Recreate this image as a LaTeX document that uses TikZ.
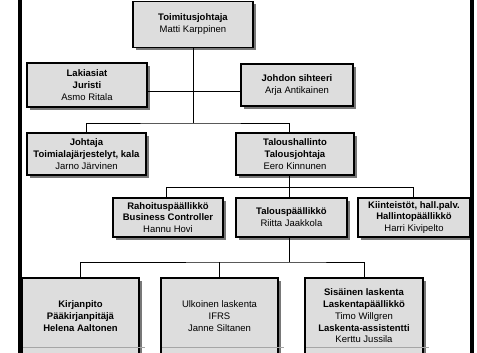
\documentclass[tikz,border=0pt]{standalone}
\usepackage{fontspec}
\setmainfont{Liberation Sans}
\usetikzlibrary{shadows}
\definecolor{boxgray}{RGB}{221,221,221}
\definecolor{shadowgray}{RGB}{120,120,120}
\tikzset{
  unit/.style={draw=black, line width=1.2pt, fill=boxgray, align=center,
    inner sep=1pt, font=\fontsize{9.5}{11.8}\selectfont,
    drop shadow={shadow xshift=3pt, shadow yshift=-3pt, fill=shadowgray, opacity=1}},
  link/.style={draw=black, line width=0.9pt},
  pagecut/.style={draw=gray!70, line width=0.4pt, dash pattern=on 1.5pt off 0.5pt},
  frame/.style={draw=black, line width=4pt}
}
\begin{document}
\begin{tikzpicture}[x=1pt, y=-1pt]
  \useasboundingbox (0,0) rectangle (477,353);
  \clip (0,0) rectangle (477,353);
  % units
  \draw
    (193,24.2) node[unit, minimum width=120pt, minimum height=46pt] (ceo)
      {\textbf{Toimitusjohtaja}\\Matti Karppinen}
    (87,85) node[unit, minimum width=120pt, minimum height=44pt] (laki)
      {\textbf{Lakiasiat}\\\textbf{Juristi}\\Asmo Ritala}
    (297,85) node[unit, minimum width=112pt, minimum height=42pt] (siht)
      {\textbf{Johdon sihteeri}\\Arja Antikainen}
    (86.5,154) node[unit, minimum width=119pt, minimum height=42pt] (johtaja)
      {\textbf{Johtaja}\\\textbf{Toimialajärjestelyt, kala}\\Jarno Järvinen}
    (295,154) node[unit, minimum width=118pt, minimum height=42pt] (talous)
      {\textbf{Taloushallinto}\\\textbf{Talousjohtaja}\\Eero Kinnunen}
    (168,217.5) node[unit, minimum width=110pt, minimum height=39pt] (rahoitus)
      {\textbf{Rahoituspäällikkö}\\\textbf{Business Controller}\\Hannu Hovi}
    (291.5,217.5) node[unit, minimum width=111pt, minimum height=39pt] (taloup)
      {\textbf{Talouspäällikkö}\\Riitta Jaakkola}
    (414,217.5) node[unit, minimum width=112pt, minimum height=39pt] (kiint)
      {\textbf{Kiinteistöt, hall.palv.}\\\textbf{Hallintopäällikkö}\\Harri Kivipelto}
    (80.5,316) node[unit, minimum width=117pt, minimum height=76pt] (kirjanpito)
      {\textbf{Kirjanpito}\\\textbf{Pääkirjanpitäjä}\\\textbf{Helena Aaltonen}}
    (219.5,316) node[unit, minimum width=117pt, minimum height=76pt] (ulkoinen)
      {Ulkoinen laskenta\\IFRS\\Janne Siltanen}
    (364,316) node[unit, minimum width=118pt, minimum height=76pt] (sisainen)
      {\textbf{Sisäinen laskenta}\\\textbf{Laskentapäällikkö}\\Timo Willgren\\
       \textbf{Laskenta-assistentti}\\Kerttu Jussila};
  % bar levels
  \coordinate (staff) at (193,91);
  \coordinate (bar1) at (193,123);
  \coordinate (bar2) at (289,187);
  \coordinate (bar3) at (289,262);
  \coordinate (dropr) at (166,187);
  \coordinate (dropk) at (413,187);
  \coordinate (cut) at (0,347);
  \begin{scope}[link]
    \draw (ceo.south) to (bar1);
    \draw (laki.east |- staff) to (siht.west |- staff);
    \draw (johtaja.north) |- (bar1) -| (bar2 |- talous.north);
    \draw (bar2 |- talous.south) to (bar2);
    \draw (dropr |- rahoitus.north) to (dropr) to (dropk) to (dropk |- kiint.north);
    \draw (bar2 |- taloup.north) to (bar2);
    \draw (bar3 |- taloup.south) to (bar3);
    \draw (kirjanpito.north) |- (bar3) -| (sisainen.north);
    \draw (ulkoinen.north) to (ulkoinen.north |- bar3);
  \end{scope}
  \foreach \n in {kirjanpito,ulkoinen,sisainen}
    \draw[pagecut] ([xshift=2pt]\n.west |- cut) -- ([xshift=5pt]\n.east |- cut);
  % page frame
  \draw[frame] (20,0) -- (20,353);
  \draw[frame] (472,0) -- (472,353);
\end{tikzpicture}
\end{document}
